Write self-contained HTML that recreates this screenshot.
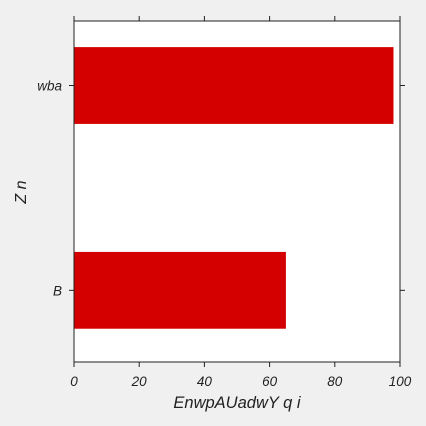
<!DOCTYPE html>
<html><head><meta charset="utf-8"><style>
body{margin:0;background:#f0f0f0;}
svg{display:block;font-family:"Liberation Sans",sans-serif;font-style:italic;}
</style></head><body>
<svg width="426" height="426">
<rect x="0" y="0" width="426" height="426" fill="#f0f0f0"/>
<rect x="74" y="21" width="326" height="341" fill="#fff"/>
<g id="bars"></g>
<rect x="74" y="21" width="326" height="341" fill="none" stroke="#222" stroke-width="1"/>
<g id="axes"></g>
<text x="237" y="408" font-size="16.5" text-anchor="middle" fill="#222">EnwpAUadwY q i</text>
<text x="26" y="192" font-size="16" text-anchor="middle" fill="#222" transform="rotate(-90 26 192)">Z n</text>
</svg>
<script>
const categories=["B","wba"];
const values=[65,98];
const xTicks=[0,20,40,60,80,100];
const NS="http://www.w3.org/2000/svg";
const X0=74,X1=400,Y0=21,Y1=362;
function xs(v){return X0+(v-0)/(100-0)*(X1-X0);}
function ys(i){return Y1-(i+0.35)/(1.315+0.35)*(Y1-Y0);}
const bandH=0.375*(Y1-Y0)/1.665;
const bars=document.getElementById('bars'),axes=document.getElementById('axes');
function mk(t,a,p){const e=document.createElementNS(NS,t);for(const k in a)e.setAttribute(k,a[k]);p.appendChild(e);return e;}
categories.forEach((c,i)=>{
  const r=mk('rect',{x:xs(0),y:ys(i)-bandH/2,width:xs(values[i])-xs(0),height:bandH,fill:'#d40000'},bars);
  
  
  const y=ys(i);
  mk('line',{x1:X0-5,x2:X0,y1:y,y2:y,stroke:'#222'},axes);
  mk('line',{x1:X1,x2:X1+5,y1:y,y2:y,stroke:'#222'},axes);
  const t=mk('text',{x:X0-12,y:y+5,'font-size':13.5,'text-anchor':'end',fill:'#222'},axes);
  t.textContent=c;
  
  
});
xTicks.forEach(v=>{
  const x=xs(v);
  mk('line',{x1:x,x2:x,y1:Y1,y2:Y1+5,stroke:'#222'},axes);
  mk('line',{x1:x,x2:x,y1:Y0-5,y2:Y0,stroke:'#222'},axes);
  const t=mk('text',{x:x,y:Y1+24,'font-size':13.5,'text-anchor':'middle',fill:'#222'},axes);
  t.textContent=v;
  
  
});
</script>
</body></html>
